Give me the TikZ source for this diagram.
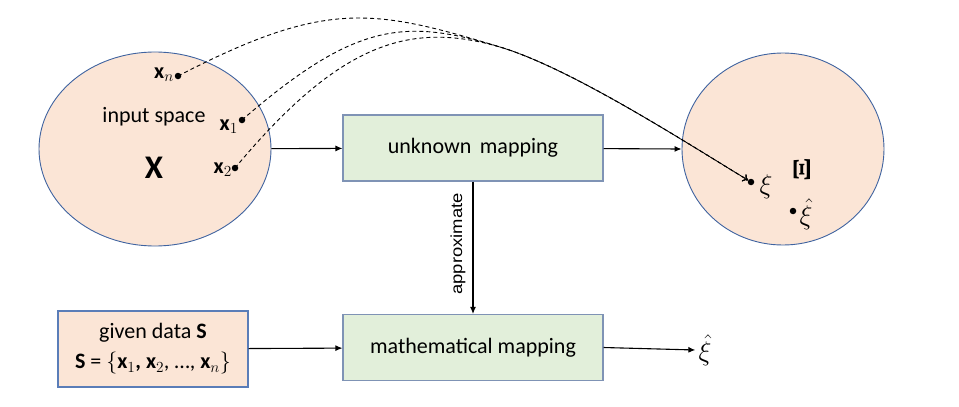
\documentclass[tikz,border=0pt]{standalone}
\usepackage{fix-cm}
\usepackage{fontspec}
\setmainfont{Carlito}
\newfontfamily\arialf{Liberation Sans}
\newfontfamily\timesf{Liberation Serif}
\usetikzlibrary{shapes.geometric,arrows.meta}
\definecolor{peach}{HTML}{FBE5D6}
\definecolor{ellline}{HTML}{3F63A0}
\definecolor{mint}{HTML}{E2EFDA}
\definecolor{boxline}{HTML}{7F93B5}
\definecolor{dataline}{HTML}{5A7DB8}
\tikzset{
  space/.style={ellipse, draw=ellline, fill=peach, line width=0.9pt, inner sep=0pt},
  mapbox/.style={rectangle, draw=boxline, fill=mint, line width=1.1pt,
    minimum width=260pt, minimum height=66pt, font=\fontsize{22}{26}\selectfont},
  databox/.style={rectangle, draw=dataline, fill=peach, line width=1.1pt,
    minimum width=190pt, minimum height=76pt, inner sep=0pt,
    align=center, font=\fontsize{22}{30}\selectfont},
  arr/.style={-{Latex[length=7pt,width=6pt]}, line width=1.1pt},
  dashcurve/.style={line width=0.9pt, dash pattern=on 4pt off 3pt, -{To[length=5pt,width=8pt]}},
  pdot/.style={circle, fill=black, inner sep=0pt, minimum size=6.5pt},
  lbl/.style={font=\fontsize{22}{26}\selectfont, inner sep=0pt},
  greek/.style={font=\fontsize{27}{30}\selectfont, inner sep=0pt},
}
\begin{document}
\begin{tikzpicture}[x=1pt,y=-1pt]
\useasboundingbox (0,0) rectangle (959,407);
% spaces
\node[space, minimum width=232pt, minimum height=194pt] (X) at (155,149) {};
\node[space, minimum width=202pt, minimum height=192pt] (XiS) at (783,149) {};
% boxes
\node[mapbox] (um) at (473,148) {unknown\, mapping};
\node[mapbox] (mm) at (473,347.5) {mathematical mapping};
\node[databox] (gd) at (153,349) {given data \textbf{S}\\
  \textbf{S} = $\{$\textbf{x}$_1$\textbf{,} \textbf{x}$_2$\textit{,} …, \textbf{x}$_n\}$};
% texts in input space
\node[lbl] (is) at (154,117) {input space};
\node[lbl, font=\fontsize{33}{36}\selectfont\bfseries] (XX) at (154,168) {X};
% points in input space
\node[pdot] (pn) at (178,76) {};
\node[pdot] (p1) at (242,120) {};
\node[pdot] (p2) at (235,168) {};
\node[lbl, anchor=base east] (ln) at (174,78) {\textbf{x}$_n$};
\node[lbl, anchor=base east] (l1) at (238,130) {\textbf{x}$_1$};
\node[lbl, anchor=base east] (l2) at (232,173) {\textbf{x}$_2$};
% points in output space
\node[pdot] (xi) at (751,182) {};
\node[greek] (lxi) at (766,187) {$\xi$};
\node[inner sep=0pt, rotate=90, font=\fontsize{25}{28}\selectfont] (bigxi) at (802,170) {\scalebox{1.4}[1]{\timesf\bfseries Ξ}};
\node[pdot] (xh) at (793,211) {};
\node[greek] (lxh) at (806,214) {$\hat{\xi}$};
% output of mathematical mapping
\node[greek] (out) at (705,350) {$\hat{\xi}$};
% arrows
\draw[arr] (X) -- (um);
\draw[arr] (um) -- (XiS.west);
\draw[arr] (um) -- (mm);
\draw[arr] (gd) -- (mm);
\draw[arr] (mm.east) -- ([xshift=-3pt]out.west);
\node[rotate=90, font=\fontsize{16}{18}\arialf] (appr) at (458,244) {\scalebox{1.15}[1]{approximate}};
% dashed curves
\coordinate (M) at (500,47);
\draw[dashcurve] (pn.center) .. controls (325,0) and (372,8) .. (M)
  .. controls (570,68) and (682,140) .. (xi);
\draw[dashcurve] (p1.center) .. controls (355,22) and (405,18) .. (M)
  .. controls (570,68) and (682,140) .. (xi);
\draw[dashcurve] (p2.center) .. controls (340,42) and (410,21) .. (M)
  .. controls (570,68) and (682,140) .. (xi);
\end{tikzpicture}
\end{document}
